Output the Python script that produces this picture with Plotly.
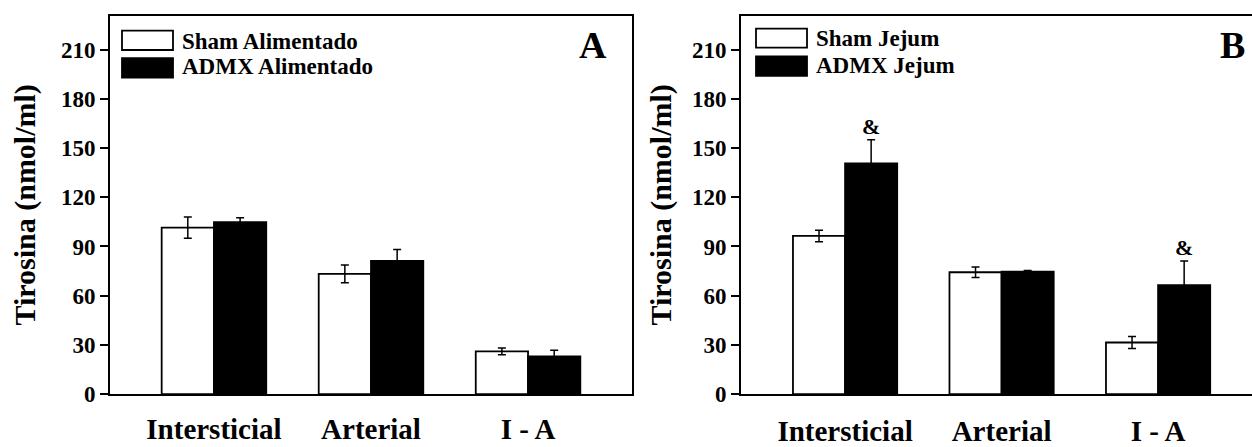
import plotly.graph_objects as go

W, H = 1252, 447

categories = ["Intersticial", "Arterial", "I - A"]
x_pos = [0, 1, 2]

# Panel A (Alimentado)
sham_alim = [101.5, 73.3, 26.1]
sham_alim_err = [6.5, 5.4, 2.1]
admx_alim = [104.8, 81.2, 23.0]
admx_alim_err = [2.7, 6.9, 3.7]

# Panel B (Jejum)
sham_jej = [96.4, 74.3, 31.5]
sham_jej_err = [3.5, 3.2, 3.6]
admx_jej = [140.6, 74.7, 66.5]
admx_jej_err = [14.4, 0.7, 14.7]

sig_marks_b = ["&", "", "&"]

y_ticks = [0, 30, 60, 90, 120, 150, 180, 210]

FONT = "Liberation Serif, Times New Roman, serif"


def px_x(p):
    return p / W


def px_y(p):
    return 1 - p / H


fig = go.Figure()


def add_pair(sham, sham_err, admx, admx_err, xa, ya, names):
    fig.add_trace(go.Bar(
        x=x_pos, y=sham, name=names[0], xaxis=xa, yaxis=ya,
        marker=dict(color="white", line=dict(color="black", width=1.8)),
        error_y=dict(type="data", array=sham_err, color="black", thickness=1.5, width=4),
        showlegend=False,
    ))
    fig.add_trace(go.Bar(
        x=x_pos, y=admx, name=names[1], xaxis=xa, yaxis=ya,
        marker=dict(color="black", line=dict(color="black", width=1.8)),
        error_y=dict(type="data", array=admx_err, color="black", thickness=1.5, width=4),
        showlegend=False,
    ))


add_pair(sham_alim, sham_alim_err, admx_alim, admx_alim_err, "x", "y",
         ["Sham Alimentado", "ADMX Alimentado"])
add_pair(sham_jej, sham_jej_err, admx_jej, admx_jej_err, "x2", "y2",
         ["Sham Jejum", "ADMX Jejum"])

ydom = [px_y(406), px_y(16)]

common_y = dict(
    range=[0, 230.7], tickvals=y_ticks, ticks="outside", ticklen=8, tickwidth=2,
    tickcolor="black", showline=True, linewidth=2, linecolor="black",
    showgrid=False, zeroline=False, domain=ydom,
    tickfont=dict(family=FONT, size=23, color="black", weight="bold"),
)
common_x = dict(
    tickvals=x_pos, ticktext=categories, ticks="", showline=True, linewidth=2,
    linecolor="black", showgrid=False, zeroline=False, mirror=True,
    tickfont=dict(family=FONT, size=29, color="black", weight="bold"),
)

fig.update_layout(
    width=W, height=H, autosize=False, margin=dict(l=0, r=0, t=0, b=0),
    paper_bgcolor="white", plot_bgcolor="white",
    barmode="group", bargap=0.334, bargroupgap=0,
    xaxis=dict(common_x, domain=[px_x(110), px_x(632)], range=[-0.662, 2.662],
               anchor="y", ticklabelstandoff=8),
    yaxis=dict(common_y, anchor="x", mirror=True,
               title=dict(text="Tirosina (nmol/ml)", standoff=16,
                          font=dict(family=FONT, size=30, color="black", weight="bold"))),
    xaxis2=dict(common_x, domain=[px_x(741), 1.0], range=[-0.665, 2.60],
                anchor="y2", ticklabelstandoff=10),
    yaxis2=dict(common_y, anchor="x2", mirror=False,
                title=dict(text="Tirosina (nmol/ml)", standoff=11,
                           font=dict(family=FONT, size=30, color="black", weight="bold"))),
)

# Legends (drawn manually to match the large swatches)
legend_items = [
    (122, 31.5, 173, 51.5, "white", 180, 42.5, "Sham Alimentado"),
    (122, 60, 173, 80, "black", 180, 68.5, "ADMX Alimentado"),
    (756, 29.5, 807, 49, "white", 814, 40, "Sham Jejum"),
    (756, 58, 807, 78, "black", 814, 67.5, "ADMX Jejum"),
]
for x0, y0, x1, y1, col, tx, ty, label in legend_items:
    fig.add_shape(type="rect", xref="paper", yref="paper",
                  x0=px_x(x0), x1=px_x(x1), y0=px_y(y1), y1=px_y(y0),
                  fillcolor=col, line=dict(color="black", width=1.8))
    fig.add_annotation(xref="paper", yref="paper", x=px_x(tx), y=px_y(ty),
                       text=label, showarrow=False, xanchor="left", yanchor="middle",
                       font=dict(family=FONT, size=23, color="black", weight="bold"))

# Panel letters
fig.add_annotation(xref="paper", yref="paper", x=px_x(593), y=px_y(46), text="A",
                   showarrow=False, xanchor="center", yanchor="middle",
                   font=dict(family=FONT, size=38, color="black", weight="bold"))
fig.add_annotation(xref="paper", yref="paper", x=px_x(1232), y=px_y(46), text="B",
                   showarrow=False, xanchor="center", yanchor="middle",
                   font=dict(family=FONT, size=38, color="black", weight="bold"))

# Significance marks above ADMX Jejum bars
for i, mark in enumerate(sig_marks_b):
    if mark:
        fig.add_annotation(xref="x2", yref="y2", x=x_pos[i] + 0.1667,
                           y=admx_jej[i] + admx_jej_err[i], text=mark, showarrow=False,
                           xanchor="center", yanchor="middle", yshift=13,
                           font=dict(family=FONT, size=22, color="black", weight="bold"))

fig.write_html(
    "out.html",
    config={"displayModeBar": False},
    post_script="document.body.style.margin='0';document.body.style.overflow='hidden';",
)
